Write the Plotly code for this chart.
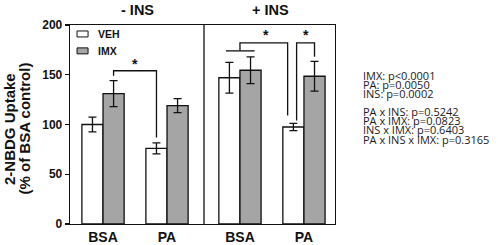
import plotly.graph_objects as go

# ---------------- data ----------------
group_labels = ["BSA", "PA", "BSA", "PA"]
veh_mean = [100, 76, 147, 97.5]
veh_err = [7.5, 5.5, 15.5, 3.7]
imx_mean = [131, 119, 154.5, 148.5]
imx_err = [13, 7, 13.4, 15]
series_names = ["VEH", "IMX"]
panel_titles = ["- INS", "+ INS"]
stats_lines = [
    "IMX: p<0.0001",
    "PA: p=0.0050",
    "INS: p=0.0002",
    "PA x INS: p=0.5242",
    "PA x IMX: p=0.0823",
    "INS x IMX: p=0.6403",
    "PA x INS x IMX: p=0.3165",
]
y_title_lines = ["2-NBDG Uptake", "(% of BSA control)"]
y_ticks = [0, 50, 100, 150, 200]

# ---------------- layout constants ----------------
W, H = 498, 245
PLOT_L, PLOT_R, PLOT_T, PLOT_B = 70, 335, 25, 224      # plot area in pixels
L, T, R, B = PLOT_L, PLOT_T, W - PLOT_R, H - PLOT_B
PW, PH = PLOT_R - PLOT_L, PLOT_B - PLOT_T

def px_to_paper_x(px):
    return (px - PLOT_L) / PW

def px_to_paper_y(py):
    return (PLOT_B - py) / PH

group_pos = [0, 1, 2.14, 3.14]
bar_w = 0.33
divider_x = 1.578
x_range = [-0.516, 3.625]
BOLD = "Liberation Sans, Arial, sans-serif"
INK = "#111111"
GRAY = "#a5a5a5"
LW = 1.3

fig = go.Figure()
fig.add_trace(go.Bar(
    x=group_pos, y=veh_mean, name=series_names[0], width=bar_w, offset=-bar_w,
    marker=dict(color="white", line=dict(color=INK, width=LW)),
    error_y=dict(type="data", array=veh_err, visible=True, color=INK, thickness=LW, width=4),
    showlegend=False, hoverinfo="skip",
))
fig.add_trace(go.Bar(
    x=group_pos, y=imx_mean, name=series_names[1], width=bar_w, offset=0,
    marker=dict(color=GRAY, line=dict(color=INK, width=LW)),
    error_y=dict(type="data", array=imx_err, visible=True, color=INK, thickness=LW, width=4),
    showlegend=False, hoverinfo="skip",
))

shapes = []
# panel divider
shapes.append(dict(type="line", xref="x", yref="paper", x0=divider_x, x1=divider_x, y0=0, y1=1,
                   line=dict(color=INK, width=LW)))

# significance brackets (data coordinates)
hb = bar_w / 2
veh_c = [g - hb for g in group_pos]
imx_c = [g + hb for g in group_pos]

def bracket(xa, ya, xb, yb, top):
    return dict(type="path", xref="x", yref="y",
                path=f"M{xa},{ya} L{xa},{top} L{xb},{top} L{xb},{yb}",
                line=dict(color=INK, width=LW))

shapes.append(bracket(imx_c[0], 149, veh_c[1], 87, 154))
shapes.append(dict(type="line", xref="x", yref="y", x0=veh_c[2] - 0.055, x1=imx_c[2] + 0.065,
                   y0=174, y1=174, line=dict(color=INK, width=LW)))
shapes.append(bracket(group_pos[2], 174, 2.885, 109, 182))
shapes.append(bracket(3.025, 104, imx_c[3], 168, 182))

# legend boxes (data coords)
shapes.append(dict(type="rect", xref="x", yref="y", x0=-0.406, x1=-0.234, y0=188, y1=194,
                   fillcolor="white", line=dict(color=INK, width=1)))
shapes.append(dict(type="rect", xref="x", yref="y", x0=-0.406, x1=-0.234, y0=171, y1=177,
                   fillcolor=GRAY, line=dict(color=INK, width=1)))

ann = []
ann.append(dict(x=-0.11, y=191, xref="x", yref="y", text=f"<b>{series_names[0]}</b>", showarrow=False,
                xanchor="left", yanchor="middle", font=dict(family=BOLD, size=10.5, color=INK)))
ann.append(dict(x=-0.11, y=174, xref="x", yref="y", text=f"<b>{series_names[1]}</b>", showarrow=False,
                xanchor="left", yanchor="middle", font=dict(family=BOLD, size=10.5, color=INK)))

# stars
for sx, sy in [(0.5, 161), (2.55, 189.5), (3.17, 189.5)]:
    ann.append(dict(x=sx, y=sy, xref="x", yref="y", text="<b>*</b>", showarrow=False,
                    xanchor="center", yanchor="middle", font=dict(family=BOLD, size=14, color=INK)))

# panel titles
for tx, t in zip([0.539, 2.61], panel_titles):
    ann.append(dict(x=tx, y=px_to_paper_y(10), xref="x", yref="paper", text=f"<b>{t}</b>",
                    showarrow=False, xanchor="center", yanchor="middle",
                    font=dict(family=BOLD, size=14.5, color=INK)))

# y-axis title (two rotated lines)
for px, t in zip([9, 23.5], y_title_lines):
    ann.append(dict(x=px_to_paper_x(px), y=px_to_paper_y(129), xref="paper", yref="paper",
                    text=f"<b>{t}</b>", textangle=-90, showarrow=False,
                    xanchor="center", yanchor="middle",
                    font=dict(family=BOLD, size=15, color=INK)))

# stats text
stat_py = [75, 84.3, 93.3, 111.7, 120.7, 129.7, 139]
for py, t in zip(stat_py, stats_lines):
    ann.append(dict(x=px_to_paper_x(361.5), y=px_to_paper_y(py), xref="paper", yref="paper",
                    text=t, showarrow=False, xanchor="left", yanchor="middle", borderpad=0,
                    font=dict(family="Open Sans, Noto Sans, sans-serif", size=11, color="#1a1a1a")))

fig.update_layout(
    width=W, height=H, margin=dict(l=L, r=R, t=T, b=B, pad=0, autoexpand=False),
    paper_bgcolor="white", plot_bgcolor="white",
    barmode="overlay", showlegend=False, hovermode=False,
    shapes=shapes, annotations=ann,
    xaxis=dict(range=x_range, tickvals=group_pos, ticktext=[f"<b>{g}</b>" for g in group_labels],
               ticks="", showline=True, linecolor=INK, linewidth=LW, mirror=True,
               showgrid=False, zeroline=False, automargin=False,
               tickfont=dict(family=BOLD, size=14, color=INK)),
    yaxis=dict(range=[0, 200], tickvals=y_ticks, ticktext=[f"<b>{v}</b>" for v in y_ticks],
               ticks="outside", ticklen=4, tickwidth=LW, tickcolor=INK,
               showline=True, linecolor=INK, linewidth=LW, mirror=True,
               showgrid=False, zeroline=False, automargin=False,
               tickfont=dict(family=BOLD, size=12, color=INK)),
)

# remove the default 8px page margin so the figure sits at the window's top-left
fig.write_html("out.html", config={"displayModeBar": False, "staticPlot": True},
               post_script="document.body.style.margin='0px';document.body.style.overflow='hidden';")
